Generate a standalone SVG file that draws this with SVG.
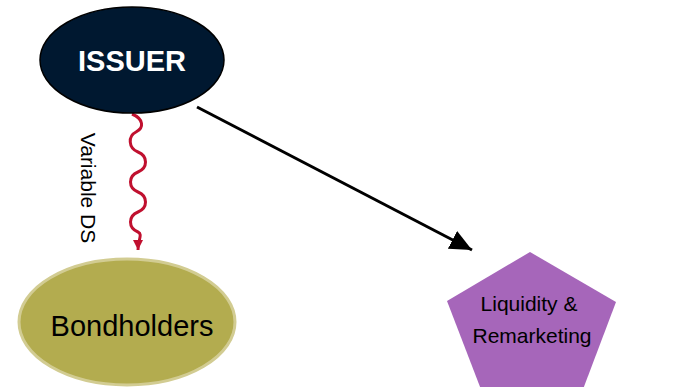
<svg xmlns="http://www.w3.org/2000/svg" width="682" height="387" viewBox="0 0 682 387">
  <style>
    .lbl { font-family: "Liberation Sans", Arial, sans-serif; text-anchor: middle; }
  </style>
  <defs>
    <marker id="blackHead" markerUnits="userSpaceOnUse" markerWidth="24" markerHeight="22" refX="22" refY="10" orient="auto">
      <path d="M0,0 L22,10 L0,20 Z" fill="#000"/>
    </marker>
    <marker id="redHead" markerUnits="userSpaceOnUse" markerWidth="12" markerHeight="12" refX="10" refY="5" orient="auto">
      <path d="M0,0 L10,5 L0,10 Z" fill="#C0102F"/>
    </marker>
  </defs>
  <rect width="682" height="387" fill="#fff"/>

  <g id="connectors">
    <path d="M132,114 c12,5 12,14 4,18 c-8,4 -8,16 2,20 c10,4 10,16 0,20 c-10,4 -10,16 0,20 c10,4 10,16 0,20 c-10,4 -10,16 0,20 c5,2 0,8 0,18" fill="none" stroke="#C0102F" stroke-width="3" marker-end="url(#redHead)"/>
    <line x1="197" y1="107" x2="472" y2="250" stroke="#000" stroke-width="3" marker-end="url(#blackHead)"/>
    <text class="lbl" x="0" y="0" font-size="21" fill="#000" transform="translate(81,188) rotate(90)">Variable DS</text>
  </g>

  <g id="issuer">
    <ellipse cx="132" cy="60" rx="92" ry="53" fill="#001830" stroke="#000" stroke-width="1.5"/>
    <text class="lbl" x="132" y="71" font-size="29" font-weight="bold" fill="#fff">ISSUER</text>
  </g>

  <g id="bondholders">
    <ellipse cx="127" cy="322" rx="108" ry="63" fill="#B3AC4F" stroke="#D2CC92" stroke-width="3"/>
    <text class="lbl" x="132" y="336" font-size="29" fill="#000">Bondholders</text>
  </g>

  <g id="liquidity">
    <polygon points="530,252 616,302 582,392 482,392 447,301" fill="#A666BA"/>
    <text class="lbl" x="529" y="311" font-size="21" fill="#000">Liquidity &amp;</text>
    <text class="lbl" x="532" y="343" font-size="21" fill="#000">Remarketing</text>
  </g>
</svg>
